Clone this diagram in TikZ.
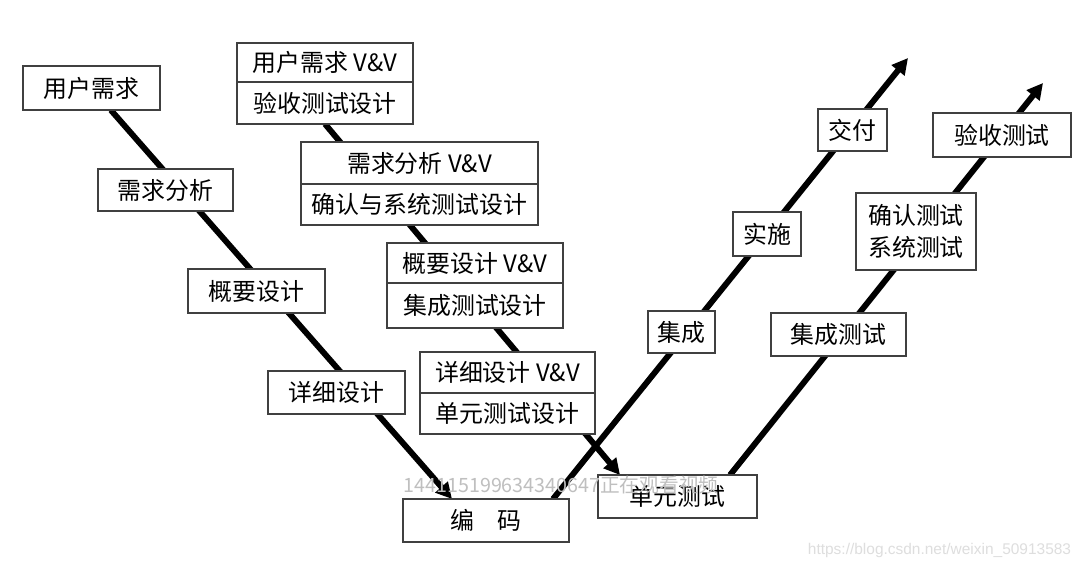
\documentclass[tikz,border=0pt]{standalone}
\usepackage{fontspec}
\setmainfont{Noto Sans CJK SC}
\newfontfamily\urlfont{Liberation Sans}
\usetikzlibrary{positioning,calc,arrows.meta,backgrounds}

\begin{document}
\begin{tikzpicture}[x=0.025cm, y=-0.025cm,
  box/.style 2 args={draw=black!75, line width=1.3pt, fill=white, outer sep=0pt, inner sep=0pt,
    minimum width=#1*0.025cm, minimum height=#2*0.025cm, font=\fontsize{17}{21}\selectfont},
  vline/.style={line width=4.2pt, -{Triangle[length=0.4cm,width=0.4cm]}}]
  \useasboundingbox (0,0) rectangle (1090,569);

  \node[box={137}{44}] (yh) at (91.5,88)    {用户需求};
  \node[box={135}{42}] (xq) at (165.5,190)  {需求分析};
  \node[box={137}{44}] (gy) at (256.5,291)  {概要设计};
  \node[box={137}{43}] (xx) at (336.5,392.5) {详细设计};
  \node[box={166}{43}] (bm) at (486,520.5)  {编　码};
  \node[box={159}{43}] (dy) at (677.5,496.5) {单元测试};

  \node[box={176}{39}] (yhv) at (325,62.5) {用户需求 V\&V};
  \node[box={176}{42}, below=0pt of yhv] (yhd) {验收测试设计};
  \node[box={237}{42}] (xqv) at (419.5,163) {需求分析 V\&V};
  \node[box={237}{41}, below=0pt of xqv] (xqd) {确认与系统测试设计};
  \node[box={176}{40}] (gyv) at (475,263) {概要设计 V\&V};
  \node[box={176}{45}, below=0pt of gyv] (gyd) {集成测试设计};
  \node[box={175}{41}] (xxv) at (507.5,372.5) {详细设计 V\&V};
  \node[box={175}{41}, below=0pt of xxv] (xxd) {单元测试设计};

  \node[box={67}{42}]  (jc)  at (681.5,332) {集成};
  \node[box={68}{44}]  (ss)  at (767,234)   {实施};
  \node[box={69}{42}]  (jf)  at (852.5,130) {交付};
  \node[box={135}{43}] (jct) at (838.5,334.5) {集成测试};
  \node[box={120}{77}, align=center, font=\fontsize{17}{23}\selectfont] (qr) at (916,231.5) {确认测试\\系统测试};
  \node[box={138}{44}] (ys)  at (1002,135) {验收测试};

  \coordinate (end1) at (908,58);
  \coordinate (end2) at (1043,83);

  \begin{scope}[on background layer]
    \fill[white] (0,0) rectangle (1090,569);
    \draw[vline] (yh) -- ($(bm.north)+(-34,0)$);
    \draw[vline] (yhd.south) -- ($(dy.north)+(-57.5,0)$);
    \draw[vline] ($(bm.north)+(67,0)$) -- (end1);
    \draw[vline] ($(dy.north)+(52.5,0)$) -- (end2);
  \end{scope}

  \node[text=black!25, font=\fontsize{14}{16}\selectfont] (wm) at (561,485) {144115199634340647正在观看视频};
  \node[text=black!13, font=\urlfont\fontsize{11}{13}\selectfont] (url) at (939.5,550) {https://blog.csdn.net/weixin\_50913583};
\end{tikzpicture}
\end{document}
